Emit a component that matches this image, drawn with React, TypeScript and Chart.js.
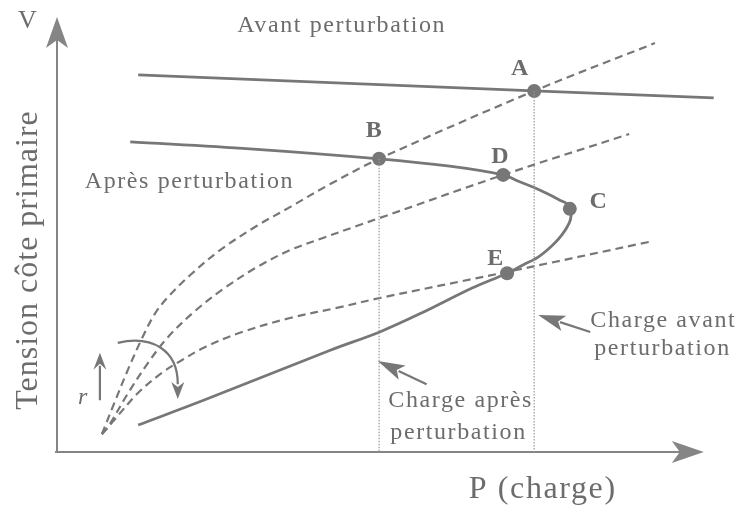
import { useEffect, useRef } from "react";
import { Chart, registerables } from "chart.js";

Chart.register(...registerables);

// Diagram units: P (charge) and V (tension) both on a 0–100 scale
const avantP = [12.3, 72.3, 99.5];
const avantV = [86.7, 83.0, 81.4];

const apresP = [11.1, 29.2, 48.8, 59.5, 67.6, 69.8, 72.1, 74.4, 76.2, 77.3, 77.7, 77.9, 77.6, 76.5, 75.0, 72.9, 70.6, 68.2, 62.9, 55.3, 48.9, 41.4, 22.4, 12.3];
const apresV = [71.3, 69.7, 67.4, 65.7, 63.7, 62.3, 60.9, 59.3, 57.9, 57.0, 55.9, 54.5, 52.6, 49.9, 47.4, 44.8, 43.0, 41.1, 37.7, 32.0, 27.6, 23.4, 12.0, 6.2];

const load1P = [6.8, 8.8, 10.8, 12.9, 14.8, 16.8, 20.2, 24.7, 30.3, 35.3, 41.4, 48.8, 72.3, 90.6];
const load1V = [4.1, 11.7, 19.1, 26.2, 31.7, 35.6, 40.7, 46.4, 52.0, 56.3, 61.6, 67.4, 83.0, 94.0];

const load2P = [6.8, 7.7, 10.8, 13.8, 16.8, 20.9, 25.2, 30.3, 35.3, 40.3, 45.5, 48.9, 67.6, 86.7];
const load2V = [4.1, 5.7, 13.6, 20.5, 26.4, 32.4, 37.5, 42.5, 46.4, 49.2, 52.0, 53.8, 63.7, 73.1];

const load3P = [6.8, 8.3, 12.3, 15.9, 18.9, 22.4, 27.7, 35.3, 42.9, 48.9, 68.2, 89.7];
const load3V = [4.1, 6.7, 13.6, 18.2, 21.1, 24.1, 27.4, 30.8, 33.3, 35.4, 41.4, 48.3];

const pointNames = ["A", "B", "C", "D", "E"];
const pointP = [72.3, 48.8, 77.7, 67.6, 68.2];
const pointV = [83.0, 67.4, 55.9, 63.7, 41.1];

const chargeApresP = 48.8;
const chargeAvantP = 72.3;

const zip = (ps: number[], vs: number[]) => ps.map((p, i) => ({ x: p, y: vs[i] }));

const LINE = "#777777";
const TEXT = "#6c6c6c";
const AXIS = "#858585";
const SERIF = "'Liberation Serif', 'Times New Roman', serif";

function arrowHead(ctx: CanvasRenderingContext2D, tx: number, ty: number, angle: number, len: number, hw: number, notch: number) {
  const dx = Math.cos(angle), dy = Math.sin(angle);
  const px = -dy, py = dx;
  const bx = tx - dx * len, by = ty - dy * len;
  ctx.beginPath();
  ctx.moveTo(tx, ty);
  ctx.lineTo(bx + px * hw, by + py * hw);
  ctx.lineTo(tx - dx * (len - notch), ty - dy * (len - notch));
  ctx.lineTo(bx - px * hw, by - py * hw);
  ctx.closePath();
  ctx.fill();
}

const diagramPlugin = {
  id: "diagram",
  beforeDatasetsDraw(chart: any) {
    const { ctx } = chart;
    const xs = chart.scales.x, ys = chart.scales.y;
    const X = (v: number) => xs.getPixelForValue(v);
    const Y = (v: number) => ys.getPixelForValue(v);
    ctx.save();
    ctx.strokeStyle = AXIS;
    ctx.fillStyle = AXIS;
    ctx.lineWidth = 2;
    // y axis
    ctx.beginPath();
    ctx.moveTo(X(0), Y(0) + 1);
    ctx.lineTo(X(0), Y(100) + 20);
    ctx.stroke();
    arrowHead(ctx, X(0), Y(100), -Math.PI / 2, 31, 11, 8);
    // x axis
    ctx.beginPath();
    ctx.moveTo(X(0) - 2, Y(0));
    ctx.lineTo(X(98) - 20, Y(0));
    ctx.stroke();
    arrowHead(ctx, X(98), Y(0), 0, 32, 11, 8);
    ctx.restore();
  },
  afterDatasetsDraw(chart: any) {
    const { ctx } = chart;
    const xs = chart.scales.x, ys = chart.scales.y;
    const X = (v: number) => xs.getPixelForValue(v);
    const Y = (v: number) => ys.getPixelForValue(v);
    ctx.save();
    ctx.fillStyle = TEXT;
    ctx.textBaseline = "alphabetic";

    const txt = (s: string, p: number, v: number, font: string, align: CanvasTextAlign = "left", spacing = "1.6px") => {
      ctx.font = font;
      ctx.textAlign = align;
      (ctx as any).letterSpacing = spacing;
      ctx.fillText(s, X(p), Y(v));
    };

    const reg = `24px ${SERIF}`;
    txt("Avant perturbation", 27.3, 96.6, reg);
    txt("Après perturbation", 4.2, 60.7, reg);
    txt("Charge avant", 80.8, 28.7, reg);
    txt("perturbation", 81.4, 22.3, reg);
    txt("Charge après", 50.2, 10.3, reg);
    txt("perturbation", 50.5, 3.0, reg);

    // point letters
    const bold = `bold 24px ${SERIF}`;
    const letterPos: Record<string, [number, number]> = {
      A: [70.1, 86.7],
      B: [48.0, 72.4],
      C: [82.0, 56.1],
      D: [67.1, 66.4],
      E: [66.4, 43.0],
    };
    pointNames.forEach((n) => {
      const [p, v] = letterPos[n];
      txt(n, p, v, bold, "center", "0px");
    });

    // axis titles
    txt("V", -5.9, 97.5, `26px ${SERIF}`, "left", "0px");
    txt("P (charge)", 62.4, -10.6, `32px ${SERIF}`, "left", "1.6px");
    ctx.save();
    ctx.translate(X(-3.0), Y(9.7));
    ctx.rotate(-Math.PI / 2);
    ctx.font = `32px ${SERIF}`;
    ctx.textAlign = "left";
    (ctx as any).letterSpacing = "1px";
    ctx.fillText("Tension côte primaire", 0, 0);
    ctx.restore();

    // r label
    txt("r", 3.2, 11.0, `italic 24px ${SERIF}`, "left", "0px");

    // arrows
    ctx.strokeStyle = LINE;
    ctx.fillStyle = LINE;
    ctx.lineWidth = 2.2;
    const straightArrow = (p0: number, v0: number, p1: number, v1: number, len: number, hw: number) => {
      const x0 = X(p0), y0 = Y(v0), x1 = X(p1), y1 = Y(v1);
      const ang = Math.atan2(y1 - y0, x1 - x0);
      ctx.beginPath();
      ctx.moveTo(x0, y0);
      ctx.lineTo(x1 - Math.cos(ang) * (len - 4), y1 - Math.sin(ang) * (len - 4));
      ctx.stroke();
      arrowHead(ctx, x1, y1, ang, len, hw, 6);
    };
    straightArrow(80.8, 27.6, 72.9, 31.5, 27, 8);
    straightArrow(56.0, 15.6, 48.6, 20.9, 27, 8);
    straightArrow(6.5, 11.9, 6.5, 22.8, 17, 6.5);

    // curved rotation arrow
    ctx.beginPath();
    ctx.moveTo(X(9.2), Y(25.1));
    ctx.bezierCurveTo(X(14.3), Y(26.9), X(18.3), Y(23.6), X(18.3), Y(15.6));
    ctx.stroke();
    arrowHead(ctx, X(18.3), Y(12.2), Math.PI / 2, 17, 6.5, 5);

    ctx.restore();
  },
};

export default function App() {
  const ref = useRef<HTMLCanvasElement | null>(null);
  useEffect(() => {
    document.body.style.margin = "0";
    const canvas = ref.current;
    if (!canvas) return;
    const solid = { borderColor: LINE, borderWidth: 2.8, pointRadius: 0, showLine: true, tension: 0.35, clip: false as const };
    const dashed = { borderColor: LINE, borderWidth: 2.2, borderDash: [8, 5], pointRadius: 0, showLine: true, tension: 0.35, clip: false as const };
    const dotted = { borderColor: "#999999", borderWidth: 1.2, borderDash: [1.5, 1.5], pointRadius: 0, showLine: true, tension: 0, clip: false as const };
    const chart = new Chart(canvas, {
      type: "scatter",
      data: {
        datasets: [
          { label: "Charge après perturbation", data: [{ x: chargeApresP, y: pointV[1] }, { x: chargeApresP, y: 0 }], ...dotted },
          { label: "Charge avant perturbation", data: [{ x: chargeAvantP, y: pointV[0] }, { x: chargeAvantP, y: 0 }], ...dotted },
          { label: "Charge 1", data: zip(load1P, load1V), ...dashed },
          { label: "Charge 2", data: zip(load2P, load2V), ...dashed },
          { label: "Charge 3", data: zip(load3P, load3V), ...dashed },
          { label: "Avant perturbation", data: zip(avantP, avantV), ...solid, tension: 0 },
          { label: "Après perturbation", data: zip(apresP, apresV), ...solid },
          {
            label: "Points",
            data: zip(pointP, pointV),
            showLine: false,
            pointRadius: 7,
            pointBackgroundColor: LINE,
            pointBorderWidth: 0,
            borderColor: LINE,
            clip: false,
          },
        ],
      },
      options: {
        animation: false,
        responsive: false,
        events: [],
        layout: { padding: { left: 57, right: 27, top: 17, bottom: 63 } },
        scales: {
          x: { type: "linear", min: 0, max: 100, display: false },
          y: { type: "linear", min: 0, max: 100, display: false },
        },
        plugins: { legend: { display: false }, tooltip: { enabled: false } },
      },
      plugins: [diagramPlugin],
    });
    return () => chart.destroy();
  }, []);
  return <canvas ref={ref} width={744} height={515} style={{ display: "block" }} />;
}
